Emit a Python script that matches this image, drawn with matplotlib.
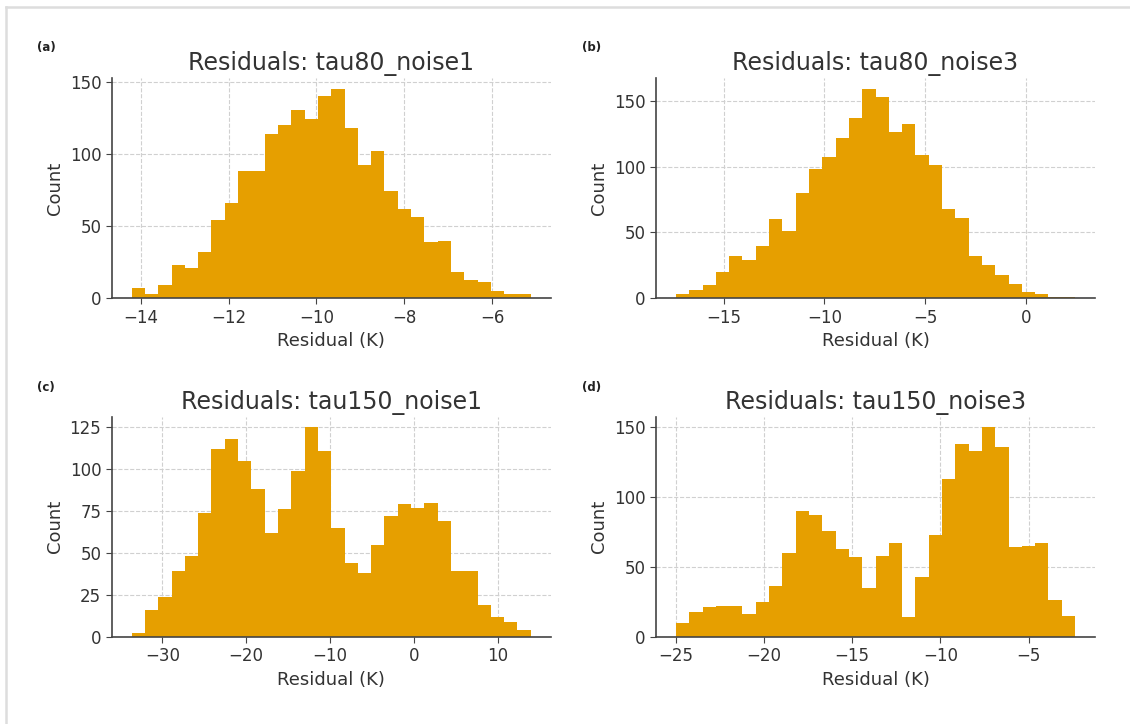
import numpy as np
import matplotlib
matplotlib.use("Agg")
import matplotlib.pyplot as plt
from matplotlib.lines import Line2D

# ---- data ----
titles = ["Residuals: tau80_noise1", "Residuals: tau80_noise3",
          "Residuals: tau150_noise1", "Residuals: tau150_noise3"]
panel_labels = ["(a)", "(b)", "(c)", "(d)"]

# bin ranges (first left edge, last right edge), 30 bins each
range_a = (-14.205, -5.125)
range_b = (-17.37, 2.45)
range_c = (-33.67, 13.94)
range_d = (-25.0, -2.36)

counts_a = [7, 3, 9, 23, 21, 32, 54, 66, 88, 88,
            114, 120, 130, 124, 140, 145, 118, 92, 102, 74,
            62, 56, 39, 40, 18, 13, 11, 5, 3, 3]
counts_b = [3, 6, 10, 20, 32, 29, 40, 60, 51, 80,
            98, 107, 122, 137, 159, 153, 126, 132, 109, 101,
            68, 61, 32, 25, 18, 11, 5, 3, 1, 1]
counts_c = [2, 16, 24, 39, 48, 74, 112, 118, 105, 88,
            62, 76, 99, 125, 111, 65, 44, 38, 55, 72,
            79, 77, 80, 69, 39, 39, 19, 12, 9, 4]
counts_d = [10, 18, 21, 22, 22, 16, 25, 36, 60, 90,
            87, 76, 63, 57, 35, 58, 67, 14, 43, 73,
            113, 138, 133, 150, 136, 64, 65, 67, 26, 15]

ranges = [range_a, range_b, range_c, range_d]
counts = [counts_a, counts_b, counts_c, counts_d]

BAR = "#E69F00"
TXT = "#333333"
SPINE = "#444444"

fig = plt.figure(figsize=(11.3, 7.24), dpi=100)
W, H = 1130, 724
# axes boxes in pixels: (left, top, right, bottom)
boxes = [(111.7, 78.3, 550.7, 298.3), (656, 78.3, 1095, 298.3),
         (111.7, 416.9, 550.7, 636.7), (656, 416.9, 1095, 636.7)]
label_pos = [(37, 48), (582, 48), (37, 388), (582, 388)]

for i in range(4):
    l, t, r, b = boxes[i]
    ax = fig.add_axes([l / W, 1 - b / H, (r - l) / W, (b - t) / H])
    n = len(counts[i])
    edges = np.linspace(ranges[i][0], ranges[i][1], n + 1)
    centers = 0.5 * (edges[:-1] + edges[1:])
    ax.hist(centers, bins=edges, weights=counts[i], color=BAR,
            histtype="stepfilled", edgecolor="none", zorder=2)
    ax.grid(True, linestyle="--", color="#d0d0d0", linewidth=0.8, zorder=0)
    ax.set_axisbelow(True)
    for s in ["top", "right"]:
        ax.spines[s].set_visible(False)
    for s in ["left", "bottom"]:
        ax.spines[s].set_color(SPINE)
        ax.spines[s].set_linewidth(1.2)
    ax.tick_params(colors=SPINE, labelcolor=TXT, labelsize=12, length=4)
    ax.set_title(titles[i], fontsize=17, color=TXT, pad=6)
    ax.set_xlabel("Residual (K)", fontsize=13, color=TXT)
    ax.set_ylabel("Count", fontsize=13, color=TXT)
    lx, ly = label_pos[i]
    fig.text(lx / W, 1 - ly / H, panel_labels[i], fontsize=8.5,
             fontweight="bold", color="#222222", va="center", ha="left")

# light frame lines (screenshot border)
fig.add_artist(Line2D([6 / W, 1], [1 - 6.5 / H, 1 - 6.5 / H], color="#dddddd",
                      linewidth=1.8, transform=fig.transFigure))
fig.add_artist(Line2D([6 / W, 6 / W], [0, 1 - 6.5 / H], color="#dddddd",
                      linewidth=1.8, transform=fig.transFigure))

fig.savefig("out.png", dpi=100)
